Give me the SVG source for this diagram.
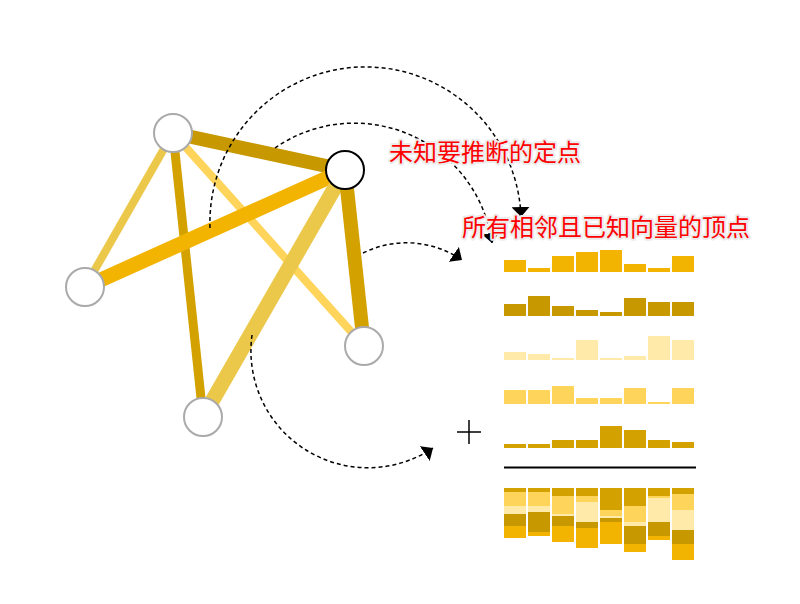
<svg xmlns="http://www.w3.org/2000/svg" width="800" height="604" viewBox="0 0 800 604">
<style>
.node{fill:#fff;stroke:#aaa;stroke-width:2}
.sel{stroke:#000}
.arc{fill:none;stroke:#000;stroke-width:1.5;stroke-dasharray:4 3;marker-end:url(#ah)}
.lbl{font-family:"Noto Sans CJK SC","Noto Sans",sans-serif;font-size:24px;fill:#ff0000;stroke:#ececec;stroke-width:4;stroke-linejoin:round;paint-order:stroke}
.c1{fill:#F2B400}.c2{fill:#C89800}.c3{fill:#FFEAAA}.c4{fill:#FFD45A}.c5{fill:#D4A200}
</style>
<defs>
<marker id="ah" markerUnits="userSpaceOnUse" viewBox="0 -9 10 18" refX="10" refY="0" markerWidth="10" markerHeight="18" orient="auto">
<path d="M0,-9L10,0L0,9Z" fill="#000"/>
</marker>
</defs>
<g id="edges" fill="none">
<line x1="173" y1="133" x2="85" y2="287" stroke="#ECC84A" stroke-width="8"/>
<line x1="173" y1="133" x2="364" y2="346" stroke="#FFD45A" stroke-width="8"/>
<line x1="173" y1="133" x2="203" y2="417" stroke="#D4A200" stroke-width="9"/>
<line x1="173" y1="133" x2="345" y2="170" stroke="#C89800" stroke-width="14"/>
<line x1="345" y1="170" x2="85" y2="287" stroke="#F2B400" stroke-width="15"/>
<line x1="345" y1="170" x2="203" y2="417" stroke="#ECC84A" stroke-width="15"/>
<line x1="345" y1="170" x2="364" y2="346" stroke="#D4A200" stroke-width="14"/>
</g>
<g id="nA"><circle class="node" cx="173" cy="133" r="19"/></g>
<g id="nB"><circle class="node sel" cx="345" cy="170" r="19"/></g>
<g id="nC"><circle class="node" cx="85" cy="287" r="19"/></g>
<g id="nD"><circle class="node" cx="364" cy="346" r="19"/></g>
<g id="nE"><circle class="node" cx="203" cy="417" r="19"/></g>
<g id="connectors">
<path class="arc" d="M210,228 A150,150 0 0 1 521,217"/>
<path class="arc" d="M275,148 A139,139 0 0 1 492,243"/>
<path class="arc" d="M363,253 A98,98 0 0 1 462,260"/>
<path class="arc" d="M252,335 A117,117 0 0 0 433,448"/>
</g>
<g id="labels">
<text class="lbl" x="389" y="161">未知要推断的定点</text>
<text class="lbl" x="462" y="236">所有相邻且已知向量的顶点</text>
</g>
<g id="row1" class="c1">
<rect x="504" y="260" width="22" height="12"/><rect x="528" y="268" width="22" height="4"/><rect x="552" y="256" width="22" height="16"/><rect x="576" y="252" width="22" height="20"/><rect x="600" y="250" width="22" height="22"/><rect x="624" y="264" width="22" height="8"/><rect x="648" y="268" width="22" height="4"/><rect x="672" y="256" width="22" height="16"/>
</g>
<g id="row2" class="c2">
<rect x="504" y="304" width="22" height="12"/><rect x="528" y="296" width="22" height="20"/><rect x="552" y="306" width="22" height="10"/><rect x="576" y="310" width="22" height="6"/><rect x="600" y="312" width="22" height="4"/><rect x="624" y="298" width="22" height="18"/><rect x="648" y="302" width="22" height="14"/><rect x="672" y="302" width="22" height="14"/>
</g>
<g id="row3" class="c3">
<rect x="504" y="352" width="22" height="8"/><rect x="528" y="354" width="22" height="6"/><rect x="552" y="358" width="22" height="2"/><rect x="576" y="340" width="22" height="20"/><rect x="600" y="358" width="22" height="2"/><rect x="624" y="356" width="22" height="4"/><rect x="648" y="336" width="22" height="24"/><rect x="672" y="340" width="22" height="20"/>
</g>
<g id="row4" class="c4">
<rect x="504" y="390" width="22" height="14"/><rect x="528" y="390" width="22" height="14"/><rect x="552" y="386" width="22" height="18"/><rect x="576" y="398" width="22" height="6"/><rect x="600" y="398" width="22" height="6"/><rect x="624" y="388" width="22" height="16"/><rect x="648" y="402" width="22" height="2"/><rect x="672" y="388" width="22" height="16"/>
</g>
<g id="row5" class="c5">
<rect x="504" y="444" width="22" height="4"/><rect x="528" y="444" width="22" height="4"/><rect x="552" y="440" width="22" height="8"/><rect x="576" y="440" width="22" height="8"/><rect x="600" y="426" width="22" height="22"/><rect x="624" y="430" width="22" height="18"/><rect x="648" y="440" width="22" height="8"/><rect x="672" y="442" width="22" height="6"/>
</g>
<g id="plus" stroke="#000" stroke-width="1.5">
<line x1="457" y1="432" x2="481" y2="432"/><line x1="469" y1="420" x2="469" y2="444"/>
</g>
<line id="sumline" x1="504" y1="467.5" x2="696" y2="467.5" stroke="#000" stroke-width="2"/>
<g id="sum">
<rect class="c5" x="504" y="488" width="22" height="4"/><rect class="c4" x="504" y="492" width="22" height="14"/><rect class="c3" x="504" y="506" width="22" height="8"/><rect class="c2" x="504" y="514" width="22" height="12"/><rect class="c1" x="504" y="526" width="22" height="12"/>
<rect class="c5" x="528" y="488" width="22" height="4"/><rect class="c4" x="528" y="492" width="22" height="14"/><rect class="c3" x="528" y="506" width="22" height="6"/><rect class="c2" x="528" y="512" width="22" height="20"/><rect class="c1" x="528" y="532" width="22" height="4"/>
<rect class="c5" x="552" y="488" width="22" height="8"/><rect class="c4" x="552" y="496" width="22" height="18"/><rect class="c3" x="552" y="514" width="22" height="2"/><rect class="c2" x="552" y="516" width="22" height="10"/><rect class="c1" x="552" y="526" width="22" height="16"/>
<rect class="c5" x="576" y="488" width="22" height="8"/><rect class="c4" x="576" y="496" width="22" height="6"/><rect class="c3" x="576" y="502" width="22" height="20"/><rect class="c2" x="576" y="522" width="22" height="6"/><rect class="c1" x="576" y="528" width="22" height="20"/>
<rect class="c5" x="600" y="488" width="22" height="22"/><rect class="c4" x="600" y="510" width="22" height="6"/><rect class="c3" x="600" y="516" width="22" height="2"/><rect class="c2" x="600" y="518" width="22" height="4"/><rect class="c1" x="600" y="522" width="22" height="22"/>
<rect class="c5" x="624" y="488" width="22" height="18"/><rect class="c4" x="624" y="506" width="22" height="16"/><rect class="c3" x="624" y="522" width="22" height="4"/><rect class="c2" x="624" y="526" width="22" height="18"/><rect class="c1" x="624" y="544" width="22" height="8"/>
<rect class="c5" x="648" y="488" width="22" height="8"/><rect class="c4" x="648" y="496" width="22" height="2"/><rect class="c3" x="648" y="498" width="22" height="24"/><rect class="c2" x="648" y="522" width="22" height="14"/><rect class="c1" x="648" y="536" width="22" height="4"/>
<rect class="c5" x="672" y="488" width="22" height="6"/><rect class="c4" x="672" y="494" width="22" height="16"/><rect class="c3" x="672" y="510" width="22" height="20"/><rect class="c2" x="672" y="530" width="22" height="14"/><rect class="c1" x="672" y="544" width="22" height="16"/>
</g>
</svg>
